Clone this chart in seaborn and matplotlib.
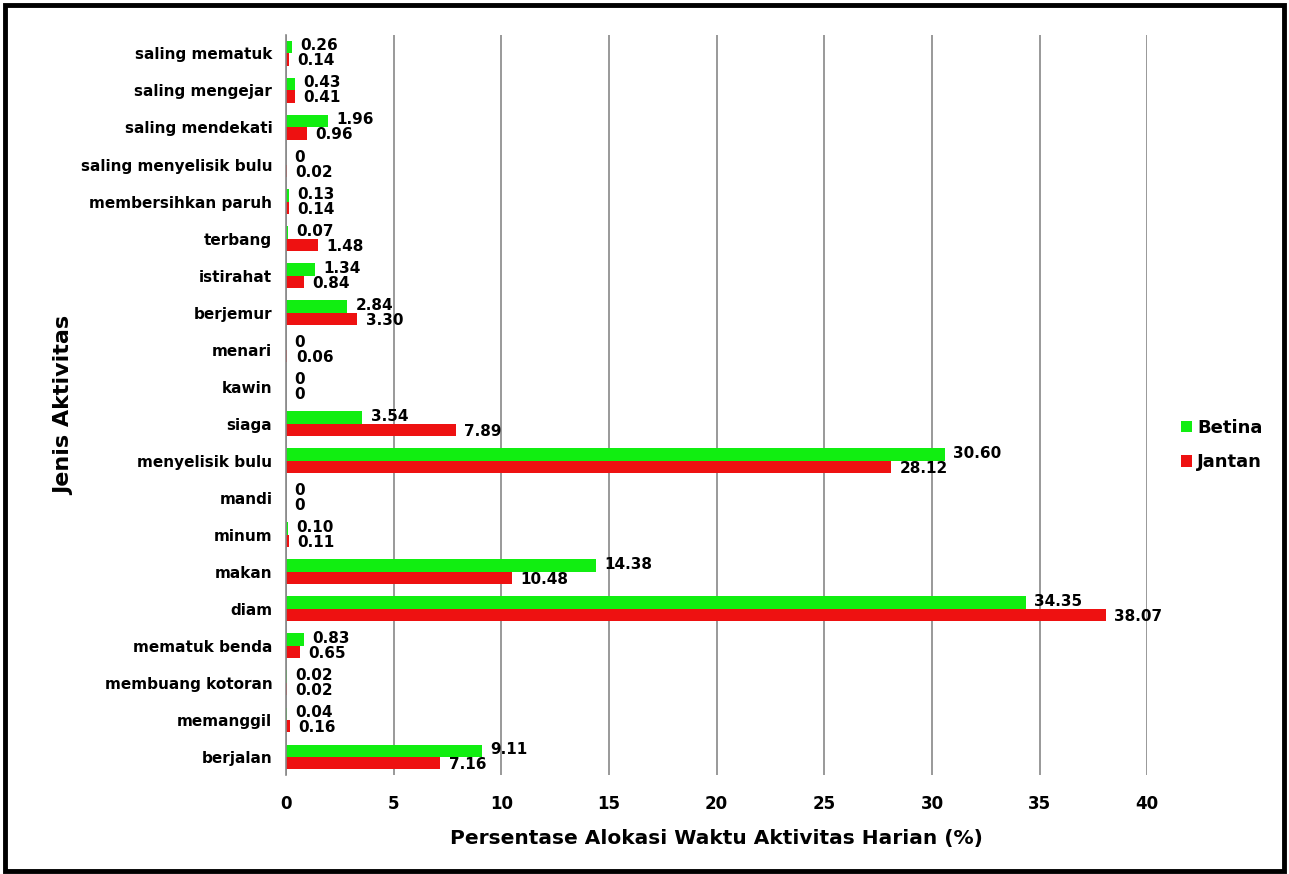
from matplotlib import pyplot as plt
from matplotlib.patches import Rectangle
import pandas as pd
import seaborn as sns

categories = ['saling mematuk', 'saling mengejar', 'saling mendekati', 'saling menyelisik bulu',
              'membersihkan paruh', 'terbang', 'istirahat', 'berjemur', 'menari', 'kawin',
              'siaga', 'menyelisik bulu', 'mandi', 'minum', 'makan', 'diam',
              'mematuk benda', 'membuang kotoran', 'memanggil', 'berjalan']
betina = [0.26, 0.43, 1.96, 0, 0.13, 0.07, 1.34, 2.84, 0, 0,
          3.54, 30.60, 0, 0.10, 14.38, 34.35, 0.83, 0.02, 0.04, 9.11]
jantan = [0.14, 0.41, 0.96, 0.02, 0.14, 1.48, 0.84, 3.30, 0.06, 0,
          7.89, 28.12, 0, 0.11, 10.48, 38.07, 0.65, 0.02, 0.16, 7.16]
x_ticks = [0, 5, 10, 15, 20, 25, 30, 35, 40]

sns.set_style('white')
plt.rcParams['font.family'] = ['DejaVu Sans']
plt.rcParams['font.weight'] = 'bold'
plt.rcParams['text.color'] = 'black'
plt.rcParams['axes.labelcolor'] = 'black'
plt.rcParams['xtick.color'] = 'black'
plt.rcParams['ytick.color'] = 'black'

df = pd.concat([
    pd.DataFrame({'aktivitas': categories, 'nilai': betina, 'jenis': 'Betina'}),
    pd.DataFrame({'aktivitas': categories, 'nilai': jantan, 'jenis': 'Jantan'}),
])

fig = plt.figure(figsize=(12.89, 8.74), dpi=100)
ax = fig.add_axes([0.222, 0.113, 0.668, 0.847])
sns.barplot(data=df, x='nilai', y='aktivitas', hue='jenis', order=categories,
            hue_order=['Betina', 'Jantan'], palette=['#11ee11', '#ee1111'],
            width=0.66, orient='h', saturation=1, linewidth=0, ax=ax, legend=True)

# green labels nudged up, red labels nudged down so the pairs don't collide
for cont, vals, dy in zip(ax.containers, [betina, jantan], [1, -1]):
    labels = ['0' if v == 0 else f'{v:.2f}' for v in vals]
    texts = ax.bar_label(cont, labels=labels, padding=6, fontsize=11, fontweight='bold')
    for t in texts:
        t.xyann = (6, dy)

ax.set_xlim(0, 40)
ax.set_xticks(x_ticks)
ax.set_xticklabels([str(t) for t in x_ticks], fontsize=12, fontweight='bold')
ax.tick_params(axis='y', length=0, labelsize=11, pad=10)
ax.tick_params(axis='x', length=6, color='#888888', labelcolor='black', pad=8)
for lbl in ax.get_yticklabels():
    lbl.set_fontweight('bold')
ax.grid(axis='x', color='#888888', linewidth=1.2)
ax.set_axisbelow(True)
for side in ['top', 'right', 'bottom']:
    ax.spines[side].set_visible(False)
ax.spines['left'].set_color('#888888')
ax.spines['left'].set_linewidth(1.2)

ax.set_xlabel('Persentase Alokasi Waktu Aktivitas Harian (%)', fontsize=14.5,
              fontweight='bold', labelpad=12)
ax.set_ylabel('Jenis Aktivitas', fontsize=16, fontweight='bold', labelpad=5)

leg = ax.legend(loc='center left', bbox_to_anchor=(1.02, 0.446), frameon=False,
                handlelength=0.6, handleheight=0.6, handletextpad=0.3,
                labelspacing=0.9, prop={'size': 13, 'weight': 'bold'})

fig.add_artist(Rectangle((0.004, 0.004), 0.992, 0.99, transform=fig.transFigure,
                         fill=False, edgecolor='black', linewidth=3.5))

fig.savefig('out.png', dpi=100, facecolor='white')
